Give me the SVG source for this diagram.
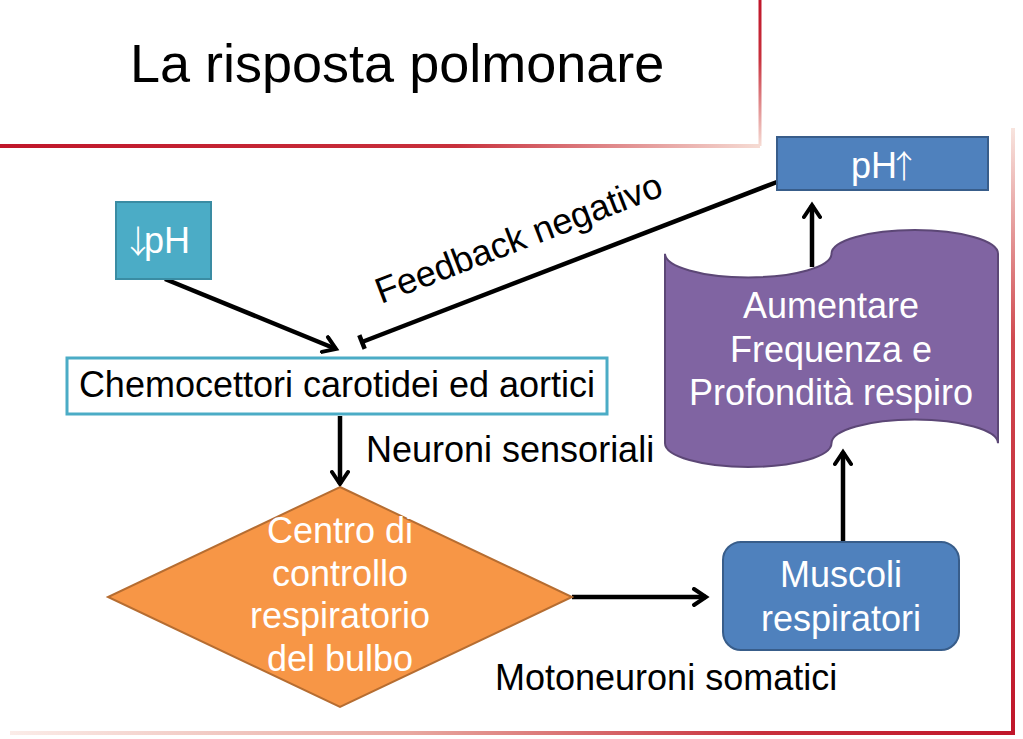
<svg xmlns="http://www.w3.org/2000/svg" width="1023" height="739" viewBox="0 0 1023 739">
<style>
.t{font-family:"Liberation Sans",Arial,sans-serif;}
.w{fill:#fff;font-size:36px;text-anchor:middle;}
.k{fill:#000;font-size:36px;}
.c{stroke:#000;stroke-width:4.5;fill:none;}
.ar{font-family:"Noto Sans CJK SC","DejaVu Sans",sans-serif;font-weight:300;}
</style>
<defs>
<linearGradient id="gTop" x1="0" y1="0" x2="760" y2="0" gradientUnits="userSpaceOnUse"><stop offset="0" stop-color="#C0162A"/><stop offset="0.6" stop-color="#C8303C"/><stop offset="1" stop-color="#F6DCD4"/></linearGradient>
<linearGradient id="gTopV" x1="0" y1="0" x2="0" y2="146" gradientUnits="userSpaceOnUse"><stop offset="0" stop-color="#C0162A"/><stop offset="0.4" stop-color="#C8303C"/><stop offset="1" stop-color="#F6DCD4"/></linearGradient>
<linearGradient id="gRight" x1="0" y1="128" x2="0" y2="733" gradientUnits="userSpaceOnUse"><stop offset="0" stop-color="#F8E4DE"/><stop offset="0.35" stop-color="#D04A50"/><stop offset="1" stop-color="#C0162A"/></linearGradient>
<linearGradient id="gBot" x1="10" y1="0" x2="1013" y2="0" gradientUnits="userSpaceOnUse"><stop offset="0" stop-color="#FBECE8"/><stop offset="0.4" stop-color="#E8A8A0"/><stop offset="0.75" stop-color="#C8303C"/><stop offset="1" stop-color="#C0162A"/></linearGradient>
<marker id="arr" viewBox="0 0 20 20" refX="16" refY="10" markerWidth="20" markerHeight="20" markerUnits="userSpaceOnUse" orient="auto">
<path d="M4,2 L16,10 L4,18" fill="none" stroke="#000" stroke-width="4" stroke-linecap="round" stroke-linejoin="miter"/>
</marker>
</defs>
<rect width="1023" height="739" fill="#fff"/>
<g id="frame">
<line x1="0" y1="146" x2="760" y2="146" stroke="url(#gTop)" stroke-width="4"/>
<line x1="760" y1="0" x2="760" y2="146" stroke="url(#gTopV)" stroke-width="3"/>
<line x1="1013" y1="128" x2="1013" y2="733" stroke="url(#gRight)" stroke-width="4"/>
<line x1="10" y1="733" x2="1015" y2="733" stroke="url(#gBot)" stroke-width="4"/>
</g>
<text id="title" class="t" x="130" y="82" font-size="54" fill="#000">La risposta polmonare</text>
<g id="connectors">
<line class="c" x1="165" y1="279" x2="336" y2="349" marker-end="url(#arr)"/>
<line class="c" x1="340" y1="416" x2="340" y2="484" marker-end="url(#arr)"/>
<line class="c" x1="572" y1="597" x2="706" y2="597" marker-end="url(#arr)"/>
<line class="c" x1="843" y1="542" x2="843" y2="452" marker-end="url(#arr)"/>
<line class="c" x1="812" y1="267" x2="812" y2="205" marker-end="url(#arr)"/>
<line class="c" x1="777" y1="182" x2="362" y2="342"/>
<line class="c" x1="359.3" y1="335.2" x2="364.7" y2="348.8" stroke-width="3"/>
<text class="t k" transform="translate(381,304) rotate(-21)">Feedback negativo</text>
<text class="t k" x="366" y="462">Neuroni sensoriali</text>
<text class="t k" x="495" y="690">Motoneuroni somatici</text>
</g>
<g id="node-phdown">
<rect x="116" y="202" width="95" height="77" fill="#4BACC6" stroke="#3A8CA3" stroke-width="2"/>
<text class="t" x="122" y="253" font-size="36" fill="#fff"><tspan class="ar" font-size="32">↓</tspan><tspan dx="-10">pH</tspan></text>
</g>
<g id="node-chemo">
<rect x="67" y="358" width="540" height="56" fill="#fff" stroke="#4BACC6" stroke-width="3"/>
<text class="t" x="337" y="397" font-size="36" text-anchor="middle" fill="#000">Chemocettori carotidei ed aortici</text>
</g>
<g id="node-centro">
<path d="M340,487 L572,597 L340,707 L108,597 Z" fill="#F79646" stroke="#B66D31" stroke-width="2"/>
<text class="t w" x="340" y="543">Centro di</text>
<text class="t w" x="340" y="586">controllo</text>
<text class="t w" x="340" y="628">respiratorio</text>
<text class="t w" x="340" y="671">del bulbo</text>
</g>
<g id="node-muscoli">
<rect x="723" y="542" width="236" height="108" rx="18" ry="18" fill="#4F81BD" stroke="#385D8A" stroke-width="2"/>
<text class="t w" x="841" y="587">Muscoli</text>
<text class="t w" x="841" y="631">respiratori</text>
</g>
<g id="node-aumentare">
<path d="M665,253.7 A83.25,23.7 0 0 0 831.5,253.7 A83.25,23.7 0 0 1 998,253.7 L998,443.3 A83.25,23.7 0 0 0 831.5,443.3 A83.25,23.7 0 0 1 665,443.3 Z" fill="#8064A2" stroke="#5C4776" stroke-width="2"/>
<text class="t w" x="831" y="318">Aumentare</text>
<text class="t w" x="831" y="362">Frequenza e</text>
<text class="t w" x="831" y="405">Profondità respiro</text>
</g>
<g id="node-phup">
<rect x="777" y="137" width="211" height="53" fill="#4F81BD" stroke="#385D8A" stroke-width="2"/>
<text class="t" x="851" y="178" font-size="36" fill="#fff">pH<tspan class="ar" font-size="32" dx="-9">↑</tspan></text>
</g>
</svg>
